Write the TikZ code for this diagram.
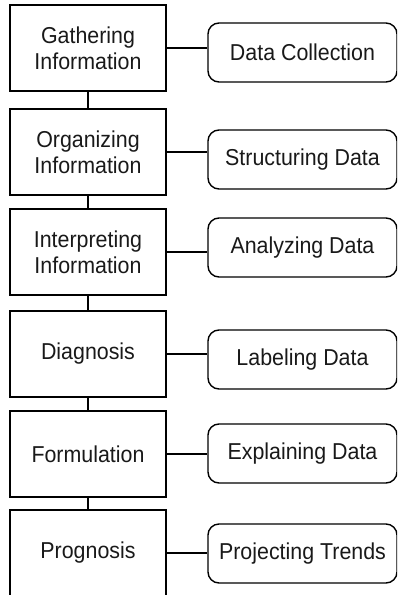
\documentclass[tikz,border=0pt]{standalone}
\usepackage{fontspec}
\setmainfont{Liberation Sans}
\newfontfamily\labelfont[FakeStretch=0.93]{Liberation Sans}
\begin{document}
\begin{tikzpicture}[x=1pt, y=-1pt,
  every node/.style={font=\labelfont\fontsize{23}{26}\selectfont, text=black!90, align=center},
  stage/.style={draw, line width=1.4pt, rectangle, minimum width=156pt, minimum height=86pt, inner sep=0pt},
  task/.style={draw, line width=1.4pt, rectangle, rounded corners=11pt, minimum width=189pt, minimum height=59pt, inner sep=0pt},
  link/.style={line width=1.4pt}]
  \useasboundingbox (0,0) rectangle (397,595);
  \clip (0,0) rectangle (397,595);

  % stages of the process
  \node[stage] (L1) at (88,48)  {Gathering\\Information};
  \node[stage] (L2) at (88,152) {Organizing\\Information};
  \node[stage] (L3) at (88,252) {Interpreting\\Information};
  \node[stage] (L4) at (88,354) {Diagnosis};
  \node[stage] (L5) at (88,454) {Formulation};
  \node[stage] (L6) at (88,553) {Prognosis};

  % what each stage does with the data
  \node[task] (R1) at (302.5,52.5)  {Data Collection};
  \node[task] (R2) at (302.5,159.5) {Structuring Data};
  \node[task] (R3) at (302.5,247.5) {Analyzing Data};
  \node[task] (R4) at (302.5,359.5) {Labeling Data};
  \node[task] (R5) at (302.5,453.5) {Explaining Data};
  \node[task] (R6) at (302.5,553.5) {Projecting Trends};

  % chain of stages
  \draw[link] (L1.south) -- (L1.south |- L2.north);
  \draw[link] (L2.south) -- (L2.south |- L3.north);
  \draw[link] (L3.south) -- (L3.south |- L4.north);
  \draw[link] (L4.south) -- (L4.south |- L5.north);
  \draw[link] (L5.south) -- (L5.south |- L6.north);

  % stage to task
  \foreach \i in {1,...,6}
    \draw[link] (L\i.east) -- (L\i.east -| R\i.west);
\end{tikzpicture}
\end{document}
